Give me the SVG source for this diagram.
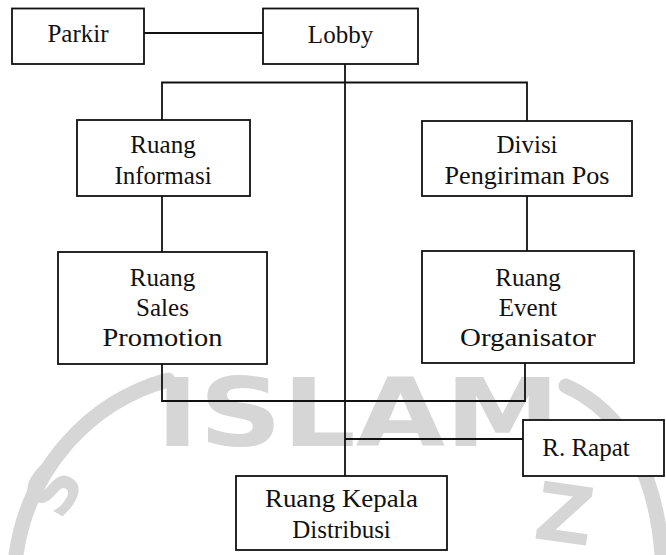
<svg xmlns="http://www.w3.org/2000/svg" width="666" height="555" viewBox="0 0 666 555">
  <style>
    .box { fill: #ffffff; stroke: #111111; stroke-width: 1.8; }
    .wire { fill: none; stroke: #111111; stroke-width: 1.8; }
    .lbl { font-family: "Liberation Serif", "Times New Roman", serif; font-size: 25px; fill: #111111; text-anchor: middle; }
    .wm { fill: none; stroke: #d6d6d6; stroke-width: 15; stroke-linecap: round; }
    .wmt { font-family: "DejaVu Sans", "Liberation Sans", sans-serif; font-weight: bold; fill: #d6d6d6; }
  </style>
  <rect width="666" height="555" fill="#ffffff"/>

  <!-- background seal -->
  <g id="seal">
    <path class="wm" d="M 16 555 C 28 470 88 402 168 380"/>
    <path class="wm" d="M 566 386 C 624 412 656 474 662 555"/>
    <text class="wmt" x="156" y="446" font-size="94" textLength="404" lengthAdjust="spacingAndGlyphs">ISLAM</text>
    <text class="wmt" x="0" y="0" font-size="66" transform="translate(62 522) rotate(-60)">S</text>
    <text class="wmt" x="0" y="0" font-size="80" transform="translate(532 538) rotate(8)">Z</text>
  </g>

  <!-- connectors -->
  <g id="connectors">
    <line class="wire" x1="144" y1="33" x2="263" y2="33"/>
    <line class="wire" x1="345" y1="64" x2="345" y2="476"/>
    <polyline class="wire" points="162,120 162,82.5 527,82.5 527,121"/>
    <line class="wire" x1="162" y1="196" x2="162" y2="252"/>
    <line class="wire" x1="527" y1="196" x2="527" y2="251"/>
    <polyline class="wire" points="162,364 162,401 525,401 525,363"/>
    <line class="wire" x1="345" y1="439" x2="523" y2="439"/>
  </g>

  <g id="parkir">
    <rect class="box" x="12" y="8.5" width="132" height="55.5"/>
    <text class="lbl" x="78" y="42">Parkir</text>
  </g>

  <g id="lobby">
    <rect class="box" x="263" y="8.5" width="155" height="55.5"/>
    <text class="lbl" x="340.5" y="43">Lobby</text>
  </g>

  <g id="ruang-informasi">
    <rect class="box" x="77" y="120" width="173" height="76"/>
    <text class="lbl" x="163" y="153">Ruang</text>
    <text class="lbl" x="163" y="184">Informasi</text>
  </g>

  <g id="divisi-pengiriman-pos">
    <rect class="box" x="422" y="121" width="210" height="75"/>
    <text class="lbl" x="527" y="153">Divisi</text>
    <text class="lbl" x="527" y="184" textLength="165" lengthAdjust="spacingAndGlyphs">Pengiriman Pos</text>
  </g>

  <g id="ruang-sales-promotion">
    <rect class="box" x="58" y="252" width="209" height="112"/>
    <text class="lbl" x="162.5" y="286">Ruang</text>
    <text class="lbl" x="162.5" y="316">Sales</text>
    <text class="lbl" x="162.5" y="346" textLength="120" lengthAdjust="spacingAndGlyphs">Promotion</text>
  </g>

  <g id="ruang-event-organisator">
    <rect class="box" x="422" y="251" width="212" height="112"/>
    <text class="lbl" x="528" y="286">Ruang</text>
    <text class="lbl" x="528" y="316">Event</text>
    <text class="lbl" x="528" y="346" textLength="136" lengthAdjust="spacingAndGlyphs">Organisator</text>
  </g>

  <g id="r-rapat">
    <rect class="box" x="523" y="420" width="141" height="56"/>
    <text class="lbl" x="586" y="456">R. Rapat</text>
  </g>

  <g id="ruang-kepala-distribusi">
    <rect class="box" x="236" y="476" width="211" height="74"/>
    <text class="lbl" x="341.5" y="507" textLength="153" lengthAdjust="spacingAndGlyphs">Ruang Kepala</text>
    <text class="lbl" x="341.5" y="538">Distribusi</text>
  </g>
</svg>
